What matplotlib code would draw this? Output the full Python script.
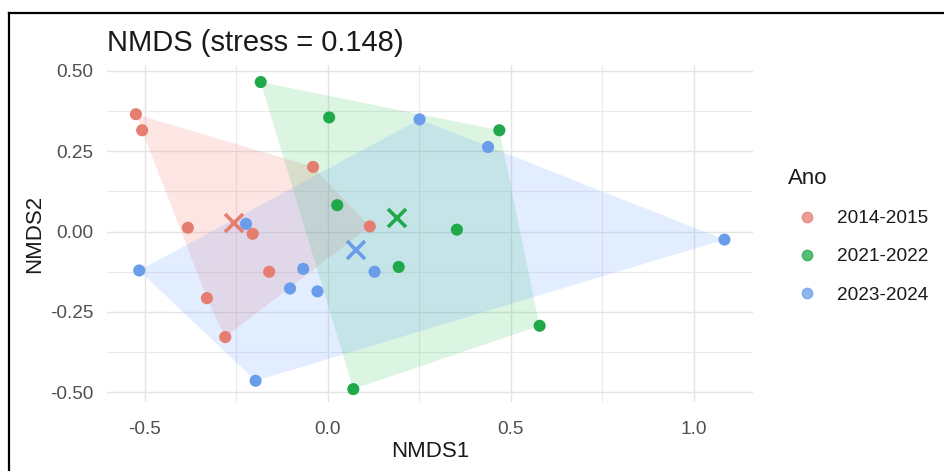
import numpy as np
import matplotlib
matplotlib.use("Agg")
import matplotlib.pyplot as plt
from matplotlib.lines import Line2D

plt.rcParams["font.family"] = ["Liberation Sans", "DejaVu Sans"]
plt.rcParams["axes.unicode_minus"] = False

# NMDS site scores per sampling period
groups = ["2014-2015", "2021-2022", "2023-2024"]
colors = ["#E57E70", "#20A94A", "#6A9DE9"]

x_1415 = [-0.524, -0.507, -0.040, -0.382, -0.205, 0.115, -0.160, -0.330, -0.280]
y_1415 = [0.365, 0.315, 0.201, 0.012, -0.007, 0.016, -0.125, -0.207, -0.328]

x_2122 = [-0.183, 0.004, 0.469, 0.026, 0.353, 0.194, 0.579, 0.070]
y_2122 = [0.465, 0.355, 0.315, 0.082, 0.006, -0.110, -0.293, -0.490]

x_2324 = [0.251, 0.438, -0.223, -0.515, -0.067, -0.103, -0.028, 0.128, -0.197, 1.084]
y_2324 = [0.349, 0.263, 0.024, -0.121, -0.116, -0.177, -0.186, -0.125, -0.464, -0.025]

stress = 0.148

xticks = [-0.5, 0.0, 0.5, 1.0]
xticklabels = ["-0.5", "0.0", "0.5", "1.0"]
yticks = [-0.5, -0.25, 0.0, 0.25, 0.5]
yticklabels = ["-0.50", "-0.25", "0.00", "0.25", "0.50"]

xs = [x_1415, x_2122, x_2324]
ys = [y_1415, y_2122, y_2324]


def convex_hull(pts):
    # monotone chain
    pts = sorted(map(tuple, pts))
    def cross(o, a, b):
        return (a[0] - o[0]) * (b[1] - o[1]) - (a[1] - o[1]) * (b[0] - o[0])
    lower, upper = [], []
    for p in pts:
        while len(lower) >= 2 and cross(lower[-2], lower[-1], p) <= 0:
            lower.pop()
        lower.append(p)
    for p in reversed(pts):
        while len(upper) >= 2 and cross(upper[-2], upper[-1], p) <= 0:
            upper.pop()
        upper.append(p)
    return np.array(lower[:-1] + upper[:-1])


fig = plt.figure(figsize=(9.44, 4.71), dpi=100)
ax = fig.add_axes([107 / 944, 1 - 402 / 471, (753 - 107) / 944, (402 - 65) / 471])

fill_cols = ["#F8766D", "#00BA38", "#619CFF"]
fill_alpha = [0.19, 0.14, 0.18]
for gx, gy, fc, a in zip(xs, ys, fill_cols, fill_alpha):
    hull = convex_hull(np.column_stack([gx, gy]))
    ax.fill(hull[:, 0], hull[:, 1], color=fc, alpha=a, lw=0, zorder=1)

for gx, gy, c in zip(xs, ys, colors):
    ax.scatter(gx, gy, s=76, color=c, edgecolors="none", zorder=3)

for gx, gy, c in zip(xs, ys, colors):
    ax.plot(np.mean(gx), np.mean(gy), marker="x", markersize=13, markeredgewidth=2.6,
            color=c, linestyle="", zorder=4)

ax.set_xlim(-0.603, 1.162)
ax.set_ylim(-0.530, 0.518)
ax.set_xticks(xticks)
ax.set_xticklabels(xticklabels)
ax.set_yticks(yticks)
ax.set_yticklabels(yticklabels)
ax.set_xticks([-0.25, 0.25, 0.75], minor=True)
ax.set_yticks([-0.375, -0.125, 0.125, 0.375], minor=True)
ax.grid(which="major", color="#E4E4E4", lw=1.0, zorder=0)
ax.grid(which="minor", color="#EBEBEB", lw=0.8, zorder=0)
ax.set_axisbelow(True)
for s in ax.spines.values():
    s.set_visible(False)
ax.tick_params(which="both", length=0, labelsize=13.7, labelcolor="#505050")
ax.tick_params(axis="x", pad=14)
ax.tick_params(axis="y", pad=10)

ax.set_xlabel("NMDS1", fontsize=16, color="#1a1a1a", labelpad=2)
ax.set_ylabel("NMDS2", fontsize=16, color="#1a1a1a", labelpad=3)

fig.text(107 / 944, 1 - 43 / 471, f"NMDS (stress = {stress:.3f})", fontsize=21,
         color="#1a1a1a", ha="left", va="center")

handles = [Line2D([], [], marker="o", linestyle="", color=c, markersize=7.5, alpha=0.75)
           for c in colors]
leg = fig.legend(handles, groups, title="Ano", loc="upper left",
                 bbox_to_anchor=(788 / 944, 1 - 168 / 471), frameon=False,
                 fontsize=13.7, title_fontsize=16, alignment="left",
                 borderpad=0, borderaxespad=0, handlelength=2.0, handletextpad=0.6,
                 labelspacing=1.1)
leg.get_title().set_color("#1a1a1a")
for t in leg.get_texts():
    t.set_color("#1a1a1a")

# frame around the figure
fig.add_artist(Line2D([8.5 / 944, 8.5 / 944], [0, 1 - 13 / 471], color="black", lw=1.6,
                      transform=fig.transFigure))
fig.add_artist(Line2D([8.5 / 944, 1], [1 - 13 / 471, 1 - 13 / 471], color="black", lw=1.6,
                      transform=fig.transFigure))

fig.savefig("out.png", dpi=100)
